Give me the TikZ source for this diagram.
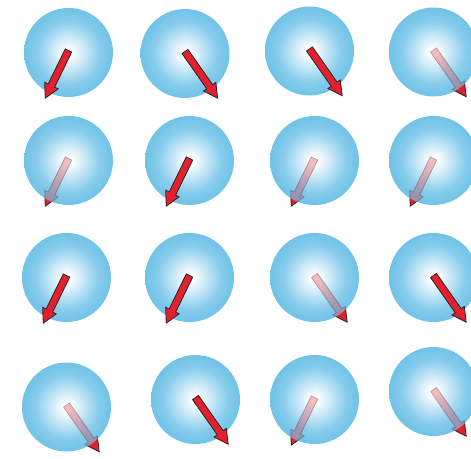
\documentclass[tikz,border=0pt]{standalone}
\usepackage{xcolor}
\definecolor{skyedge}{HTML}{4DB4E0}
\definecolor{skymid}{HTML}{86CCEC}
\definecolor{spinred}{HTML}{E5202E}
\usepackage{tikz}
\pgfdeclareradialshading{spheregrad}{\pgfpoint{0bp}{0bp}}{%
  color(0bp)=(white); color(2bp)=(white); color(18bp)=(skymid); color(36bp)=(skyedge); color(50bp)=(skyedge)}
% spin arrow: centre, angle, length, style
\newcommand{\spin}[4]{%
  \begin{scope}[shift={#1},rotate=#2]
    \filldraw[#4] (0,-3.6) -- (#3-14,-3.6) -- (#3-14,-7.5) -- (#3,0) -- (#3-14,7.5) -- (#3-14,3.6) -- (0,3.6) -- cycle;
  \end{scope}}
% spin pointing away: full arrow, opaque sphere, faded arrow inside the sphere
\newcommand{\backspin}[4]{%
  \spin{#1}{#2}{#3}{spinarrow}
  \shade[sphere] #4 circle (44.5);
  \begin{scope}
    \clip #4 circle (44.5);
    \spin{#1}{#2}{#3}{spinarrow,fill opacity=0.3,draw opacity=0.3}
  \end{scope}}

\begin{document}
\begin{tikzpicture}[
  x=1pt,y=-1pt,
  sphere/.style={shading=spheregrad},
  spinarrow/.style={fill=spinred,draw=black!85,line width=0.8pt,line join=miter}
]
\useasboundingbox (0,0) rectangle (471,458);
% row 1
\shade[sphere] (68.5,52.5) circle (44.5);
\spin{(68.5,50.5)}{244}{53}{spinarrow}
\shade[sphere] (185,53.5) circle (44.5);
\spin{(185,51.5)}{-55}{57}{spinarrow}
\shade[sphere] (309.5,51) circle (44.5);
\spin{(309.5,49)}{-55}{57}{spinarrow}
\backspin{(433.5,50)}{-55}{57}{(433.5,52)}
% row 2
\backspin{(68.5,158.5)}{244}{53}{(68.5,160.5)}
\shade[sphere] (189.5,160.5) circle (44.5);
\spin{(189.5,158.5)}{244}{53}{spinarrow}
\backspin{(314.5,158.5)}{244}{53}{(314.5,160.5)}
\backspin{(433.5,158.5)}{244}{53}{(433.5,160.5)}
% row 3
\shade[sphere] (66.5,277.5) circle (44.5);
\spin{(66.5,275.5)}{244}{53}{spinarrow}
\shade[sphere] (189.5,277.5) circle (44.5);
\spin{(189.5,275.5)}{244}{53}{spinarrow}
\backspin{(314.5,275.5)}{-55}{57}{(314.5,277.5)}
\shade[sphere] (433.5,277.5) circle (44.5);
\spin{(433.5,275.5)}{-55}{57}{spinarrow}
% row 4
\backspin{(66.5,405)}{-55}{57}{(66.5,407)}
\shade[sphere] (195.5,399.5) circle (44.5);
\spin{(195.5,397.5)}{-55}{57}{spinarrow}
\backspin{(314.5,397.5)}{244}{53}{(314.5,399.5)}
\backspin{(433.5,389.5)}{-55}{57}{(433.5,391.5)}
\end{tikzpicture}
\end{document}
